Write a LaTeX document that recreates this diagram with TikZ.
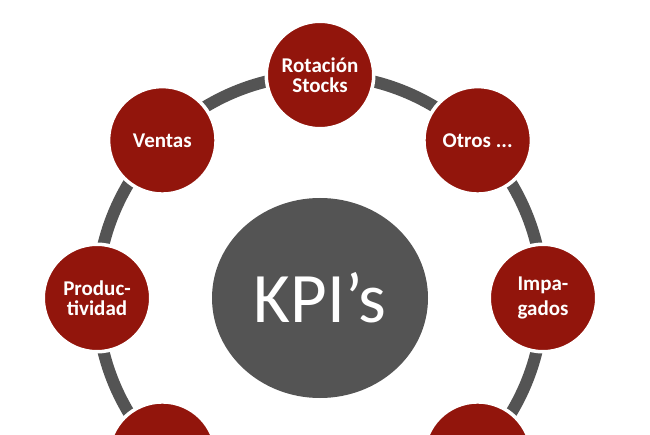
\documentclass[tikz,border=0pt]{standalone}
\usepackage{fontspec}
\setmainfont{Carlito}
\usetikzlibrary{shapes.geometric,calc}
\definecolor{kpired}{RGB}{146,21,12}
\definecolor{kpigray}{RGB}{84,84,84}
\tikzset{
  ringline/.style={draw=kpigray, line width=12pt},
  kpinode/.style={circle, fill=kpired, draw=white, line width=3.5pt,
    minimum size=107.5pt, inner sep=0pt, text=white, align=center,
    font=\bfseries\fontsize{21}{19.5}\selectfont},
  hub/.style={ellipse, fill=kpigray, minimum width=216pt, minimum height=200pt,
    inner sep=0pt, text=white, font=\fontsize{71}{71}\selectfont}
}
\begin{document}
\begin{tikzpicture}[x=1pt,y=1pt]
\useasboundingbox (0,0) rectangle (650,434);
\clip (0,0) rectangle (650,434);
\fill[white] (0,0) rectangle (650,434);
\coordinate (c) at (320,136);
\draw[ringline] (c) circle (223pt);
\node[kpinode] (rot) at ($(c)+(90:223pt)$) {Rotación\\Stocks};
\node[kpinode] (ven) at ($(c)+(135:223pt)$) {Ventas};
\node[kpinode] (otr) at ($(c)+(45:223pt)$) {Otros ...};
\node[kpinode] (pro) at ($(c)+(180:223pt)$) {Produc-\\tividad};
\node[kpinode, font=\bfseries\fontsize{21}{25}\selectfont] (imp) at ($(c)+(0:223pt)$) {Impa-\\gados};
\node[kpinode] (bl) at ($(c)+(225:223pt)$) {};
\node[kpinode] (br) at ($(c)+(315:223pt)$) {};
\node[kpinode] (bt) at ($(c)+(270:223pt)$) {};
\node[hub] (kpi) at (c) {KPI’s};
\end{tikzpicture}
\end{document}
